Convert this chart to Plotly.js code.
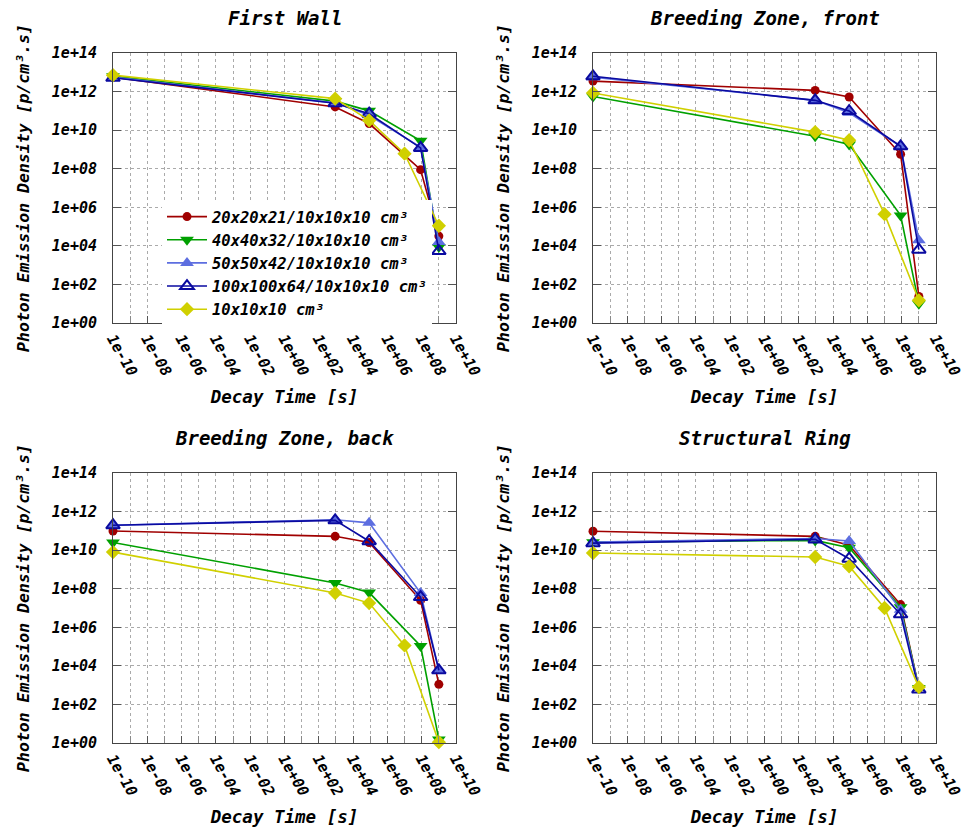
<!DOCTYPE html>
<html>
<head>
<meta charset="utf-8">
<script src="https://cdn.plot.ly/plotly-3.0.1.min.js"></script>
<style>html,body{margin:0;padding:0;background:#fff;}#chart{width:969px;height:832px;}</style>
</head>
<body>
<div id="chart"></div>
<script>
// ---------------- DATA ----------------
const seriesNames = [
  "20x20x21/10x10x10 cm³",
  "40x40x32/10x10x10 cm³",
  "50x50x42/10x10x10 cm³",
  "100x100x64/10x10x10 cm³",
  "10x10x10 cm³"
];
const panelTitles = ["First Wall", "Breeding Zone, front", "Breeding Zone, back", "Structural Ring"];

// decay times [s] (shutdown plotted at 1e-10)
const timesMesh = [1e-10, 900, 86400, 8.64e7, 1e9];
const timesFine = [1e-10, 900, 86400, 1e7, 1e9];

// First Wall
const fw_20 = [5.6e12, 1.6e11, 2.2e10, 8.9e7, 3.2e4];
const fw_40 = [6.3e12, 3.2e11, 1.0e11, 2.8e9, 8.7e3];
const fw_50 = [5.6e12, 2.6e11, 5.9e10, 1.3e9, 1.6e4];
const fw_100 = [5.2e12, 2.5e11, 7.1e10, 1.2e9, 5.4e3];
const fw_10 = [7.1e12, 4.3e11, 3.2e10, 6.0e8, 1.1e5];
// Breeding Zone, front
const bzf_20 = [3.5e12, 1.15e12, 5.2e11, 5.6e8, 24];
const bzf_40 = [5.6e11, 4.8e9, 1.8e9, 3.8e5, 10];
const bzf_50 = [5.6e12, 3.5e11, 7.9e10, 1.45e9, 1.95e4];
const bzf_100 = [6.2e12, 3.5e11, 9.8e10, 1.45e9, 6.3e3];
const bzf_10 = [8.5e11, 7.9e9, 3.0e9, 4.4e5, 15];
// Breeding Zone, back
const bzb_20 = [9.8e10, 5.2e10, 2.5e10, 2.5e7, 1.1e3];
const bzb_40 = [2.5e10, 2.0e8, 6.3e7, 1.07e5, 1.5];
const bzb_50 = [1.95e11, 3.8e11, 2.6e11, 6.0e7, 6.3e3];
const bzb_100 = [1.95e11, 3.5e11, 2.9e10, 3.7e7, 5.9e3];
const bzb_10 = [7.9e9, 6.0e7, 1.8e7, 1.15e5, 1.1];
// Structural Ring
const sr_20 = [9.5e10, 5.2e10, 1.8e10, 1.5e7, 710];
const sr_40 = [2.6e10, 3.2e10, 1.35e10, 1.1e7, 710];
const sr_50 = [2.6e10, 4.0e10, 3.0e10, 8.1e6, 710];
const sr_100 = [2.3e10, 3.6e10, 3.6e9, 4.7e6, 590];
const sr_10 = [7.1e9, 4.4e9, 1.45e9, 1.0e7, 790];

const xTickVals = [1e-10, 1e-8, 1e-6, 1e-4, 1e-2, 1e0, 1e2, 1e4, 1e6, 1e8, 1e10];
const xTickText = ["1e-10", "1e-08", "1e-06", "1e-04", "1e-02", "1e+00", "1e+02", "1e+04", "1e+06", "1e+08", "1e+10"];
const yTickVals = [1e0, 1e2, 1e4, 1e6, 1e8, 1e10, 1e12, 1e14];
const yTickText = ["1e+00", "1e+02", "1e+04", "1e+06", "1e+08", "1e+10", "1e+12", "1e+14"];

const xTitle = "Decay Time [s]";
const yTitle = "Photon Emission Density [p/cm³.s]";

// ---------------- STYLE ----------------
const panels = [
  [fw_20, fw_40, fw_50, fw_100, fw_10],
  [bzf_20, bzf_40, bzf_50, bzf_100, bzf_10],
  [bzb_20, bzb_40, bzb_50, bzb_100, bzb_10],
  [sr_20, sr_40, sr_50, sr_100, sr_10]
];
const seriesTimes = [timesMesh, timesMesh, timesMesh, timesMesh, timesFine];
const styles = [
  {color: "#a00000", symbol: "circle", size: 9},
  {color: "#00a000", symbol: "triangle-down", size: 12},
  {color: "#5d6ee0", symbol: "triangle-up", size: 12},
  {color: "#0a0aa0", symbol: "triangle-up-open", size: 12},
  {color: "#d0d000", symbol: "diamond", size: 11}
];

const FONT = "DejaVu Sans Mono";
const fnt = (size) => ({family: FONT, size: size, color: "#000", weight: "bold", style: "italic"});

const xDomains = [[113/969, 456/969], [593/969, 936/969], [113/969, 456/969], [593/969, 936/969]];
const yDomains = [[1-323/832, 1-53/832], [1-323/832, 1-53/832], [1-743/832, 1-473/832], [1-743/832, 1-473/832]];

const traces = [];
const layout = {
  width: 969, height: 832,
  margin: {l: 0, r: 0, t: 0, b: 0},
  paper_bgcolor: "#fff", plot_bgcolor: "#fff",
  showlegend: true,
  legend: {
    x: 432/969, xanchor: "right", y: 1-200/832, yanchor: "top",
    bgcolor: "#fff", borderwidth: 0, font: fnt(15.5),
    tracegroupgap: 0, itemwidth: 40
  },
  annotations: []
};

panels.forEach((panel, p) => {
  const ax = p === 0 ? "" : String(p + 1);
  panel.forEach((vals, s) => {
    const st = styles[s];
    traces.push({
      type: "scatter", mode: "lines+markers",
      x: seriesTimes[s], y: vals,
      xaxis: "x" + ax, yaxis: "y" + ax,
      name: seriesNames[s], legendgroup: "s" + s, showlegend: p === 0,
      line: {color: st.color, width: 1.6},
      marker: {color: st.color, symbol: st.symbol, size: st.size,
               line: {color: st.color, width: st.symbol.endsWith("open") ? 2 : 0}},
      cliponaxis: false
    });
  });
  layout["xaxis" + ax] = {
    type: "log", domain: xDomains[p], anchor: "y" + ax, range: [-10, 10],
    tickmode: "array", tickvals: xTickVals, ticktext: xTickText, tickangle: 60,
    tickfont: fnt(15), ticks: "inside", ticklen: 7, tickcolor: "#555",
    showline: true, mirror: true, linecolor: "#444", linewidth: 1,
    showgrid: true, gridcolor: "#aaa", griddash: "dot", gridwidth: 1,
    minor: {dtick: 1, showgrid: true, gridcolor: "#aaa", griddash: "dot", ticks: "inside", ticklen: 7, tickcolor: "#888"},
    zeroline: false, automargin: false,
    title: {text: xTitle, font: fnt(17.5), standoff: 12}
  };
  layout["yaxis" + ax] = {
    type: "log", domain: yDomains[p], anchor: "x" + ax, range: [0, 14],
    tickmode: "array", tickvals: yTickVals, ticktext: yTickText,
    tickfont: fnt(15), ticks: "inside", ticklen: 8, tickcolor: "#555",
    ticklabelstandoff: 12,
    showline: true, mirror: "ticks", linecolor: "#444", linewidth: 1,
    showgrid: true, gridcolor: "#aaa", griddash: "dot", gridwidth: 1,
    zeroline: false, automargin: false,
    title: {text: yTitle, font: fnt(16.5), standoff: 18}
  };
  layout.annotations.push({
    text: panelTitles[p], xref: "paper", yref: "paper",
    x: (xDomains[p][0] + xDomains[p][1]) / 2, y: yDomains[p][1] + 35/832,
    xanchor: "center", yanchor: "middle", showarrow: false, font: fnt(19)
  });
});

Plotly.newPlot("chart", traces, layout, {displayModeBar: false, staticPlot: true});
</script>
</body>
</html>
